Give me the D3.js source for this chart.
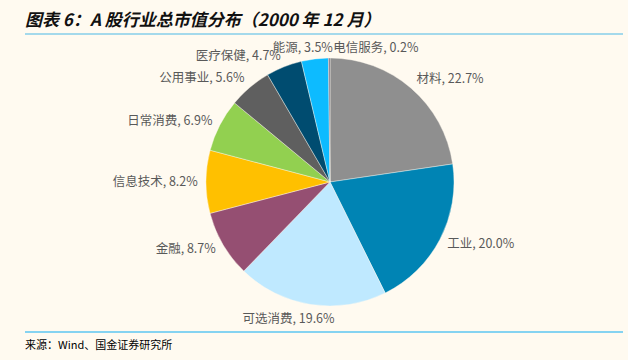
<!DOCTYPE html>
<meta charset="utf-8">
<style>
    body { margin: 0; background: #fffaf0; }
    svg { display: block; font-family: "Noto Sans CJK SC", sans-serif; }
    .label { font-size: 12.5px; fill: #595959; }
</style>
<body>
<script src="https://d3js.org/d3.v7.min.js"></script>
<script>
// chart data
var sectors = ["材料", "工业", "可选消费", "金融", "信息技术", "日常消费", "公用事业", "医疗保健", "能源", "电信服务"];
var shares = [22.7, 20.0, 19.6, 8.7, 8.2, 6.9, 5.6, 4.7, 3.5, 0.2];
var colors = ["#8f8f8f", "#0084b4", "#bfe9ff", "#954f72", "#ffc000", "#92d050", "#5f5f5f", "#004c70", "#0dbbff", "#7b6a7e"];

var width = 628, height = 360;
var cx = 330, cy = 182, radius = 124;

var svg = d3.select("body").append("svg")
    .attr("width", width)
    .attr("height", height);

// title and rules
svg.append("text")
    .attr("x", 25).attr("y", 26)
    .style("font-size", "17px")
    .style("font-weight", "bold")
    .style("font-style", "italic")
    .style("fill", "#111")
    .text("图表 6：A 股行业总市值分布（2000 年 12 月）");

svg.append("line")
    .attr("x1", 25).attr("x2", 623).attr("y1", 34).attr("y2", 34)
    .attr("stroke", "#4ab8e6").attr("stroke-width", 1.2);
svg.append("line")
    .attr("x1", 25).attr("x2", 623).attr("y1", 332).attr("y2", 332)
    .attr("stroke", "#5cc6f2").attr("stroke-width", 1.5);

svg.append("text")
    .attr("x", 25).attr("y", 349)
    .style("font-size", "11px")
    .style("fill", "#000")
    .text("来源：Wind、国金证券研究所");

// pie
var data = sectors.map(function (s, i) { return { name: s, value: shares[i], color: colors[i] }; });
var pie = d3.pie().sort(null).value(function (d) { return d.value; });
var arcs = pie(data);
var arc = d3.arc().innerRadius(0).outerRadius(radius);

var g = svg.append("g").attr("transform", "translate(" + cx + "," + cy + ")");

g.selectAll("path")
    .data(arcs)
    .enter().append("path")
    .attr("d", arc)
    .attr("fill", function (d) { return d.data.color; })
    .attr("stroke", "#fffaf0")
    .attr("stroke-width", 0.4);

// labels outside the edge, box pushed away from the pie like Excel does
var gap = 8;
var boxes = [];
var labels = g.selectAll("text.label")
    .data(arcs)
    .enter().append("text")
    .attr("class", "label")
    .attr("text-anchor", "middle")
    .text(function (d) { return d.data.name + ", " + d.data.value.toFixed(1) + "%"; });

labels.each(function (d) {
    var a = (d.startAngle + d.endAngle) / 2;
    var bb = this.getBBox();
    var w = bb.width, h = 14;
    var px = Math.sin(a) * (radius + gap), py = -Math.cos(a) * (radius + gap);
    var k = Math.min(1, Math.abs(Math.sin(a)) * 3) * (Math.sin(a) < 0 ? -1 : 1);
    var bx = px + k * w / 2, by = py - Math.pow(Math.cos(a), 3) * h / 2;
    // keep small labels from overlapping the previous one
    var prev = boxes[boxes.length - 1];
    if (prev && Math.abs(prev.y - by) < h && Math.abs(prev.x - bx) < (prev.w + w) / 2) {
        if (Math.abs(Math.sin(a)) < 0.05) {
            bx = prev.x + (prev.w + w) / 2;
            by = prev.y;
        } else {
            by = prev.y - 6;
            prev.node.attr("y", prev.y + 4 + 2);
        }
    }
    var node = d3.select(this).attr("x", bx).attr("y", by + 4);
    boxes.push({ x: bx, y: by, w: w, node: node });
});
</script>
</body>
